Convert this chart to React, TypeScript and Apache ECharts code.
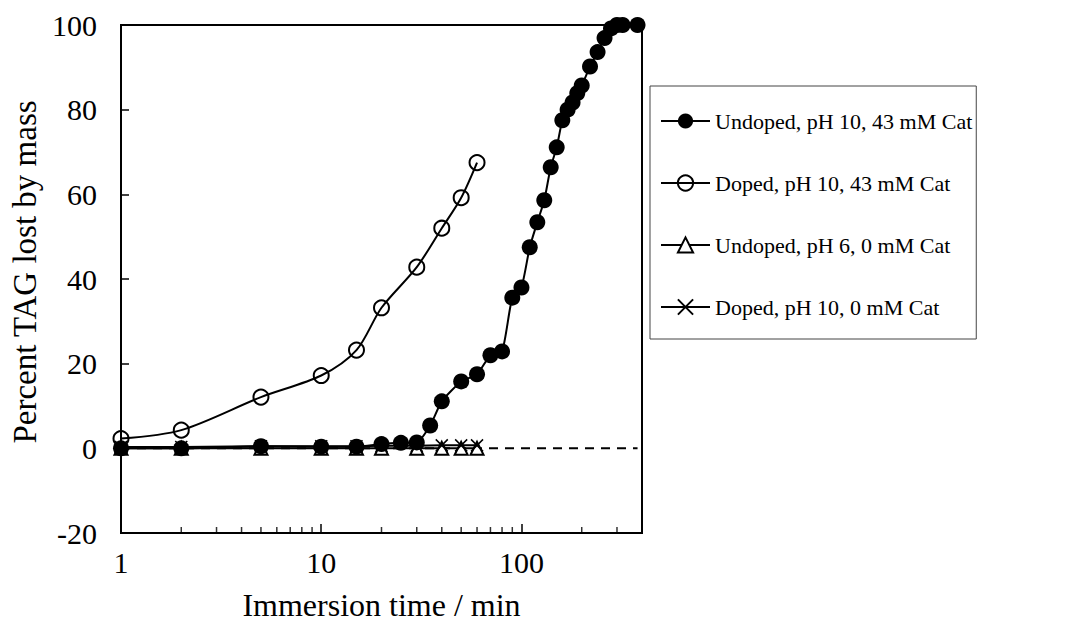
import React, { useEffect, useRef } from "react";
import * as echarts from "echarts";

// Immersion times (min) and percent TAG lost by mass for each condition
const undopedCatTimes = [1, 2, 5, 10, 15, 20, 25, 30, 35, 40, 50, 60, 70, 80, 90, 100, 110, 120, 130, 140, 150, 160, 170, 180, 190, 200, 220, 240, 260, 280, 300, 320, 380];
const undopedCatLoss = [0, 0, 0.5, 0.4, 0.4, 1, 1.3, 1.4, 5.4, 11.1, 15.8, 17.5, 22, 22.9, 35.6, 38, 47.5, 53.4, 58.6, 66.4, 71.1, 77.5, 80, 81.7, 83.9, 85.7, 90.2, 93.6, 96.9, 99.2, 100, 100, 100];

const dopedCatTimes = [1, 2, 5, 10, 15, 20, 30, 40, 50, 60];
const dopedCatLoss = [2.3, 4.3, 12.1, 17.2, 23.2, 33.2, 42.8, 52, 59.2, 67.5];

const undopedPh6Times = [1, 2, 5, 10, 15, 20, 30, 40, 50, 60];
const undopedPh6Loss = [0, 0, 0, 0, 0, 0, 0, 0, 0, 0];

const dopedNoCatTimes = [1, 2, 5, 10, 15, 20, 30, 40, 50, 60];
const dopedNoCatLoss = [0.3, 0.3, 0.5, 0.5, 0.5, 0.6, 0.6, 0.7, 0.7, 0.7];

const seriesNames = [
  "Undoped, pH 10, 43 mM Cat",
  "Doped, pH 10, 43 mM Cat",
  "Undoped, pH 6, 0 mM Cat",
  "Doped, pH 10, 0 mM Cat",
];

// Zero reference line extent and minor tick positions of the log axis
const zeroLineTimes = [1, 380];
const minorTickTimes = [2, 3, 4, 5, 6, 7, 8, 9, 20, 30, 40, 50, 60, 70, 80, 90, 200, 300];

const FONT = "'Liberation Serif', 'Times New Roman', serif";
const CROSS = "path://M0,0L10,10M10,0L0,10";

const pair = (xs: number[], ys: number[]) => xs.map((x, i) => [x, ys[i]]);

export default function App() {
  const ref = useRef<HTMLDivElement>(null);

  useEffect(() => {
    if (!ref.current) return;
    const chart = echarts.init(ref.current, undefined, { renderer: "svg" });
    chart.setOption({
      animation: false,
      backgroundColor: "#fff",
      textStyle: { fontFamily: FONT, color: "#000" },
      grid: {
        left: 121,
        top: 25,
        right: 439,
        bottom: 101,
        show: true,
        borderColor: "#000",
        borderWidth: 2,
      },
      legend: {
        orient: "vertical",
        left: 650,
        top: 86,
        data: seriesNames,
        itemWidth: 49,
        itemHeight: 19,
        itemGap: 40,
        padding: [24, 4, 21, 10],
        borderColor: "#444",
        borderWidth: 1,
        textStyle: { fontFamily: FONT, fontSize: 22, color: "#000" },
      },
      xAxis: {
        type: "log",
        logBase: 10,
        min: 1,
        max: 400,
        name: "Immersion time / min",
        nameLocation: "middle",
        nameGap: 56,
        nameTextStyle: { fontFamily: FONT, fontSize: 32, color: "#000" },
        axisLine: { onZero: false, lineStyle: { color: "#000", width: 2 } },
        axisTick: { inside: true, length: 9, lineStyle: { color: "#000", width: 1.5 } },
        axisLabel: {
          margin: 14,
          fontFamily: FONT,
          fontSize: 30,
          color: "#000",
          formatter: (v: number) => ([1, 10, 100].includes(Math.round(v)) ? String(Math.round(v)) : ""),
        },
        splitLine: { show: false },
      },
      yAxis: {
        type: "value",
        min: -20,
        max: 100,
        interval: 20,
        name: "Percent TAG lost by mass",
        nameLocation: "middle",
        nameGap: 80,
        nameTextStyle: { fontFamily: FONT, fontSize: 33, color: "#000", padding: [0, 0, 0, 14] },
        axisLine: { show: true, onZero: false, lineStyle: { color: "#000", width: 2 } },
        axisTick: { show: true, inside: true, length: 8, lineStyle: { color: "#000", width: 1.5 } },
        axisLabel: { margin: 24, fontFamily: FONT, fontSize: 30, color: "#000" },
        splitLine: { show: false },
      },
      series: [
        {
          name: "zero",
          type: "line",
          data: pair(zeroLineTimes, [0, 0]),
          symbol: "none",
          silent: true,
          lineStyle: { color: "#000", width: 2, type: [9, 7], opacity: 1 },
          z: 1,
        },
        {
          name: "minor ticks",
          type: "scatter",
          data: minorTickTimes.map((t) => [t, -20]),
          symbol: "rect",
          symbolSize: [1.5, 6],
          symbolOffset: [0, -3],
          silent: true,
          itemStyle: { color: "#000" },
          z: 1,
        },
        {
          name: seriesNames[0],
          type: "line",
          data: pair(undopedCatTimes, undopedCatLoss),
          smooth: 0.2,
          symbol: "circle",
          symbolSize: 16,
          lineStyle: { color: "#000", width: 2 },
          itemStyle: { color: "#000", borderColor: "#000", borderWidth: 0 },
          z: 3,
        },
        {
          name: seriesNames[1],
          type: "line",
          data: pair(dopedCatTimes, dopedCatLoss),
          smooth: 0.3,
          symbol: "circle",
          symbolSize: 15,
          lineStyle: { color: "#000", width: 2 },
          itemStyle: { color: "none", borderColor: "#000", borderWidth: 2 },
          z: 3,
        },
        {
          name: seriesNames[2],
          type: "line",
          data: pair(undopedPh6Times, undopedPh6Loss),
          symbol: "triangle",
          symbolSize: 13,
          lineStyle: { color: "#000", width: 2 },
          itemStyle: { color: "#fff", borderColor: "#000", borderWidth: 2 },
          z: 2,
        },
        {
          name: seriesNames[3],
          type: "line",
          data: pair(dopedNoCatTimes, dopedNoCatLoss),
          symbol: CROSS,
          symbolSize: 12,
          lineStyle: { color: "#000", width: 2 },
          itemStyle: { color: "none", borderColor: "#000", borderWidth: 1.5 },
          z: 2,
        },
      ],
    });
    return () => chart.dispose();
  }, []);

  return <div ref={ref} style={{ width: 1081, height: 634, margin: -8 }} />;
}
